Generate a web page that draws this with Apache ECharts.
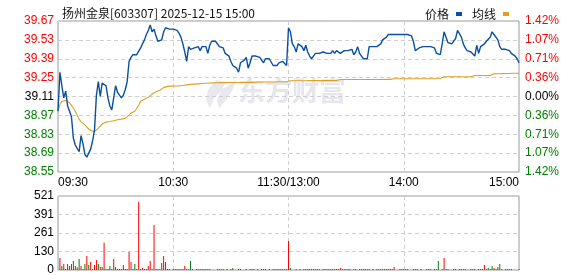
<!DOCTYPE html>
<html><head><meta charset="utf-8">
<script src="https://cdn.jsdelivr.net/npm/echarts@6/dist/echarts.min.js"></script>
<style>html,body{margin:0;padding:0;background:#fff}#c{width:578px;height:276px}</style>
</head><body><div id="c"></div>
<script>
const titleText = '扬州金泉[603307] 2025-12-15 15:00';
const prevClose = 39.11;
const leftLabels = ['38.55','38.69','38.83','38.97','39.11','39.25','39.39','39.53','39.67'];
const rightLabels = ['1.42%','1.07%','0.71%','0.36%','0.00%','0.36%','0.71%','1.07%','1.42%'];
const volLabels = ['0','130','261','391','521'];
const xTickIdx = [0,60,120,180,240];
const xTickText = ['09:30','10:30','11:30/13:00','14:00','15:00'];

const price = [
39.00,39.29,39.19,39.10,39.15,39.04,39.00,38.96,38.80,38.75,
38.74,38.70,38.82,38.76,38.68,38.66,38.69,38.72,38.78,38.86,
39.12,39.22,39.11,39.21,39.20,39.19,39.10,39.04,39.01,39.10,
39.19,39.14,39.12,39.10,39.12,39.16,39.22,39.37,39.40,39.42,
39.41,39.42,39.43,39.47,39.50,39.53,39.57,39.60,39.64,39.59,
39.61,39.56,39.52,39.52,39.53,39.59,39.62,39.61,39.61,39.61,
39.61,39.61,39.60,39.58,39.55,39.50,39.44,39.37,39.48,39.46,
39.47,39.47,39.48,39.48,39.45,39.48,39.47,39.48,39.43,39.49,
39.52,39.52,39.52,39.51,39.48,39.47,39.47,39.43,39.42,39.41,
39.37,39.34,39.33,39.32,39.29,39.36,39.37,39.38,39.40,39.32,
39.36,39.41,39.41,39.41,39.41,39.40,39.39,39.36,39.39,39.39,
39.39,39.38,39.34,39.34,39.34,39.36,39.37,39.37,39.36,39.34,
39.62,39.59,39.50,39.48,39.44,39.50,39.50,39.48,39.45,39.49,
39.44,39.41,39.39,39.41,39.43,39.43,39.43,39.43,39.44,39.45,
39.43,39.44,39.43,39.45,39.43,39.45,39.46,39.43,39.43,39.45,
39.45,39.45,39.45,39.46,39.42,39.44,39.48,39.43,39.41,39.39,
39.39,39.39,39.48,39.48,39.48,39.48,39.48,39.49,39.50,39.53,
39.54,39.55,39.57,39.56,39.57,39.57,39.57,39.57,39.57,39.57,
39.57,39.57,39.57,39.56,39.56,39.52,39.45,39.46,39.47,39.47,
39.48,39.48,39.48,39.48,39.48,39.48,39.47,39.43,39.42,39.42,
39.50,39.59,39.55,39.51,39.50,39.50,39.50,39.54,39.60,39.59,
39.55,39.50,39.47,39.45,39.45,39.44,39.43,39.41,39.49,39.43,
39.48,39.47,39.50,39.52,39.53,39.55,39.59,39.57,39.56,39.53,
39.48,39.46,39.46,39.46,39.46,39.45,39.43,39.42,39.41,39.39,
39.36];

const avgPrice = [
39.000,39.050,39.075,39.080,39.080,39.072,39.063,39.050,39.025,39.000,
38.970,38.942,38.922,38.912,38.900,38.882,38.868,38.858,38.850,38.848,
38.855,38.876,38.890,38.906,38.918,38.920,38.921,38.924,38.927,38.930,
38.934,38.937,38.940,38.942,38.945,38.948,38.958,38.972,38.988,38.995,
39.000,39.008,39.045,39.075,39.082,39.090,39.098,39.104,39.110,39.128,
39.138,39.145,39.150,39.156,39.165,39.176,39.182,39.185,39.186,39.187,
39.188,39.188,39.189,39.189,39.190,39.192,39.194,39.196,39.198,39.200,
39.201,39.202,39.203,39.204,39.205,39.206,39.207,39.208,39.209,39.210,
39.210,39.211,39.211,39.212,39.212,39.213,39.213,39.213,39.214,39.214,
39.214,39.214,39.214,39.214,39.214,39.214,39.214,39.214,39.215,39.215,
39.215,39.215,39.216,39.216,39.216,39.217,39.217,39.217,39.218,39.218,
39.218,39.218,39.218,39.218,39.219,39.219,39.219,39.219,39.219,39.219,
39.226,39.227,39.227,39.227,39.227,39.227,39.227,39.227,39.227,39.227,
39.228,39.228,39.228,39.228,39.228,39.228,39.228,39.228,39.228,39.228,
39.228,39.228,39.228,39.228,39.228,39.228,39.236,39.236,39.236,39.236,
39.236,39.236,39.236,39.236,39.236,39.236,39.236,39.236,39.236,39.236,
39.236,39.236,39.236,39.236,39.236,39.236,39.236,39.236,39.236,39.236,
39.237,39.237,39.237,39.237,39.237,39.242,39.242,39.242,39.242,39.242,
39.242,39.242,39.242,39.242,39.242,39.242,39.242,39.242,39.242,39.242,
39.242,39.242,39.242,39.242,39.242,39.242,39.242,39.242,39.243,39.244,
39.250,39.256,39.256,39.256,39.256,39.256,39.256,39.256,39.256,39.256,
39.256,39.256,39.256,39.256,39.256,39.256,39.262,39.266,39.266,39.266,
39.266,39.266,39.266,39.266,39.266,39.266,39.278,39.278,39.279,39.279,
39.280,39.280,39.280,39.281,39.281,39.281,39.281,39.282,39.282,39.282,
39.282];

const volume = [
0,84,28,42,7,42,28,42,63,28,
19,77,28,7,42,98,35,56,7,35,
70,42,21,21,192,7,7,28,7,77,
21,7,7,7,35,7,7,127,56,7,
42,7,479,7,14,7,7,28,63,7,
317,7,7,7,49,98,56,7,7,0,
7,7,7,7,7,7,28,7,7,63,
7,0,7,7,7,7,7,7,7,7,
0,0,0,7,7,7,7,0,7,0,
7,14,0,0,7,7,0,0,7,0,
7,7,7,0,7,0,7,7,7,0,
7,0,7,7,7,7,7,7,7,7,
204,14,0,0,7,0,7,0,7,7,
7,7,7,7,7,7,7,0,7,7,
7,7,7,7,7,7,7,14,7,7,
7,7,7,0,7,7,0,7,7,7,
7,7,7,0,7,0,7,7,7,7,
7,7,7,7,7,21,0,0,7,7,
7,7,7,0,0,7,7,7,0,7,
0,0,7,7,7,0,7,7,63,0,
7,84,7,7,0,0,7,7,0,7,
7,7,7,0,0,7,7,7,0,7,
7,7,35,7,14,7,28,14,7,21,
42,7,0,7,7,7,7,0,0,0,
7];

const volUp = [
0,1,0,1,0,1,1,0,0,1,
1,0,1,0,0,1,0,1,1,1,
1,0,1,0,1,0,0,0,1,1,
0,0,0,0,1,1,1,1,1,1,
0,0,1,1,1,0,0,1,1,0,
1,0,0,0,1,1,1,0,0,0,
0,0,0,0,0,0,1,0,0,0,
1,0,1,1,1,0,0,0,1,1,
0,0,0,0,0,0,0,0,0,0,
1,0,0,0,0,1,0,0,1,0,
0,1,1,0,1,0,0,0,1,0,
1,0,0,0,1,1,1,1,1,1,
1,0,0,0,0,0,1,0,0,1,
1,0,0,0,0,0,0,0,1,1,
1,1,1,1,0,1,0,1,0,1,
1,1,1,0,0,0,0,0,0,0,
1,1,1,0,1,0,1,0,0,0,
0,0,0,0,0,1,0,0,1,1,
1,1,0,0,0,0,0,1,0,1,
0,0,1,1,1,0,0,0,0,0,
1,1,0,0,0,0,1,1,0,0,
0,0,0,0,0,1,1,1,0,0,
1,1,1,0,0,1,0,1,1,0,
0,0,0,1,0,0,0,0,0,0,
0];

// time categories 09:30-11:30, 13:01-15:00
const times = [];
function pad(n){return (n<10?'0':'')+n;}
for (let m = 9*60+30; m <= 11*60+30; m++) times.push(pad(Math.floor(m/60))+':'+pad(m%60));
for (let m = 13*60+1; m <= 15*60; m++) times.push(pad(Math.floor(m/60))+':'+pad(m%60));

const priceC = price.map(p => +((p - prevClose)*100).toFixed(2));
const avgC = avgPrice.map(p => +((p - prevClose)*100).toFixed(2));
const volData = volume.map((v,i) => ({value: v, itemStyle: {color: volUp[i] ? '#ff0000' : '#008000'}}));

const NUMFONT = 'Liberation Sans, Arial, sans-serif';
const dash = {color: '#cfcfcf', type: [4,3], width: 1};
function upDownColor(idx){ return idx > 4 ? '#ff0000' : (idx < 4 ? '#008000' : '#000000'); }

const chart = echarts.init(document.getElementById('c'), null, {renderer: 'canvas'});
chart.setOption({
  animation: false,
  backgroundColor: '#ffffff',
  title: {
    text: titleText, left: 57, top: 2,
    textStyle: {fontSize: 12, fontWeight: 'normal', color: '#111', fontFamily: 'Noto Sans CJK SC, sans-serif'}
  },
  legend: {
    data: ['价格','均线'], right: 64, top: 3, align: 'right', itemGap: 10,
    itemWidth: 6, itemHeight: 4, icon: 'rect',
    textStyle: {fontSize: 12, color: '#111', fontFamily: 'Noto Sans CJK SC, sans-serif', padding: [0,2,0,0]}
  },
  graphic: [
    {
      type: 'polygon', silent: true, z: 0,
      shape: {points: [[216,80],[208,90],[206,100],[210,108],[214,98],[221,91],[217,100],[219,108],[227,99],[233,89],[236,80],[228,86],[222,89],[226,82]]},
      style: {fill: '#e8e8ee'}
    },
    {
      type: 'text', left: 238, top: 77, silent: true, z: 0,
      style: {text: '东方财富', fill: '#e6e6ec', font: 'bold 27px "Noto Sans CJK SC", sans-serif'}
    }
  ],
  grid: [
    {left: 58, right: 59, top: 21, bottom: 104, show: true, borderColor: '#9a9a9a', borderWidth: 1, backgroundColor: 'transparent'},
    {left: 58, right: 59, top: 196, bottom: 6, show: true, borderColor: '#9a9a9a', borderWidth: 1, backgroundColor: 'transparent'}
  ],
  xAxis: [
    {
      type: 'category', gridIndex: 0, data: times, boundaryGap: false,
      axisLine: {show: false}, axisTick: {show: false},
      axisLabel: {
        interval: (i) => xTickIdx.indexOf(i) >= 0,
        formatter: (v, i) => { const k = xTickIdx.indexOf(i); return k >= 0 ? xTickText[k] : ''; },
        fontSize: 12, color: '#000', fontFamily: NUMFONT, margin: 5,
        alignMinLabel: 'left', alignMaxLabel: 'right', showMinLabel: true, showMaxLabel: true
      },
      splitLine: {show: true, interval: (i) => i === 60 || i === 120 || i === 180, lineStyle: dash}
    },
    {
      type: 'category', gridIndex: 1, data: times, boundaryGap: false,
      axisLine: {show: false}, axisTick: {show: false}, axisLabel: {show: false},
      splitLine: {show: true, interval: (i) => i === 60 || i === 120 || i === 180, lineStyle: dash}
    }
  ],
  yAxis: [
    {
      type: 'value', gridIndex: 0, min: -56, max: 56, interval: 14, position: 'left',
      axisLine: {show: false}, axisTick: {show: false},
      axisLabel: {
        formatter: (v) => leftLabels[Math.round((v + 56)/14)],
        color: (v, i) => upDownColor(Math.round((Number(v) + 56)/14)),
        fontSize: 12, fontFamily: NUMFONT, margin: 4
      },
      splitLine: {show: true, lineStyle: dash}
    },
    {
      type: 'value', gridIndex: 0, min: -56, max: 56, interval: 14, position: 'right',
      axisLine: {show: false}, axisTick: {show: false},
      axisLabel: {
        formatter: (v) => rightLabels[Math.round((v + 56)/14)],
        color: (v, i) => upDownColor(Math.round((Number(v) + 56)/14)),
        fontSize: 12, fontFamily: NUMFONT, margin: 6
      },
      splitLine: {show: false}
    },
    {
      type: 'value', gridIndex: 1, min: 0, max: 521, interval: 130.25,
      axisLine: {show: false}, axisTick: {show: false},
      axisLabel: {
        formatter: (v) => volLabels[Math.round(v/130.25)],
        color: '#000', fontSize: 12, fontFamily: NUMFONT, margin: 4
      },
      splitLine: {show: true, lineStyle: dash}
    }
  ],
  series: [
    {name: '价格', type: 'line', xAxisIndex: 0, yAxisIndex: 0, data: priceC, showSymbol: false, symbol: 'none',
     lineStyle: {color: '#0a50a2', width: 1.4}, itemStyle: {color: '#0a50a2'}, z: 5},
    {name: '均线', type: 'line', xAxisIndex: 0, yAxisIndex: 0, data: avgC, showSymbol: false, symbol: 'none',
     lineStyle: {color: '#dfa020', width: 1.1}, itemStyle: {color: '#dfa020'}, z: 4},
    {name: '成交量', type: 'bar', xAxisIndex: 1, yAxisIndex: 2, data: volData, barWidth: 1, barGap: 0}
  ]
});
</script></body></html>
